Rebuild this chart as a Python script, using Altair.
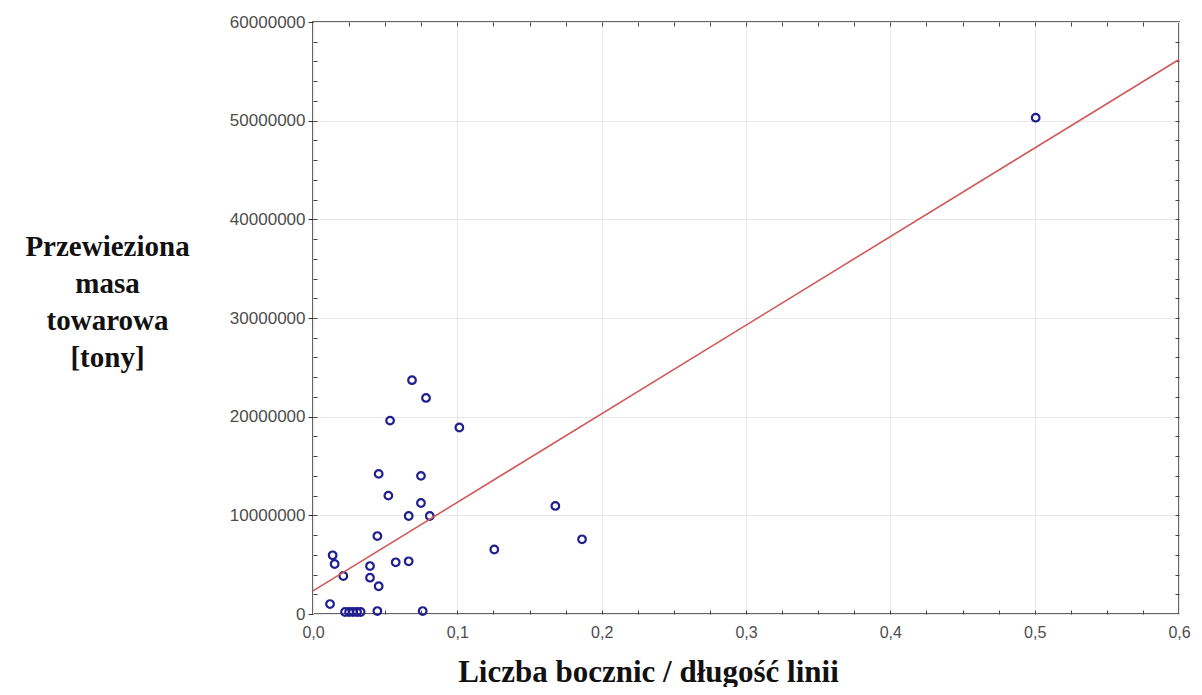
import altair as alt
import pandas as pd

# ratio: number of sidings / line length
x_ratio = [0.5007, 0.0686, 0.0783, 0.0534, 0.1014, 0.0455, 0.0748, 0.0522,
           0.0748, 0.1679, 0.0663, 0.0809, 0.0446, 0.1864, 0.1256, 0.0136,
           0.0150, 0.0395, 0.0573, 0.0663, 0.0210, 0.0395, 0.0455, 0.0118,
           0.0222, 0.0250, 0.0277, 0.0305, 0.0330, 0.0446, 0.0760]
# transported freight mass [tonnes]
y_mass = [50300000, 23700000, 21900000, 19600000, 18900000, 14200000, 14000000, 12000000,
          11250000, 10950000, 9930000, 9930000, 7900000, 7570000, 6540000, 5950000,
          5070000, 4860000, 5240000, 5340000, 3850000, 3680000, 2810000, 1010000,
          200000, 200000, 200000, 200000, 200000, 300000, 300000]

x_major = [0.0, 0.1, 0.2, 0.3, 0.4, 0.5, 0.6]
y_major = [0, 10000000, 20000000, 30000000, 40000000, 50000000, 60000000]
x_minor = [0.025, 0.05, 0.075, 0.1, 0.125, 0.15, 0.175, 0.2, 0.225, 0.25, 0.275, 0.3,
           0.325, 0.35, 0.375, 0.4, 0.425, 0.45, 0.475, 0.5, 0.525, 0.55, 0.575]
y_minor = [2000000, 4000000, 6000000, 8000000, 10000000, 12000000, 14000000, 16000000,
           18000000, 20000000, 22000000, 24000000, 26000000, 28000000, 30000000,
           32000000, 34000000, 36000000, 38000000, 40000000, 42000000, 44000000,
           46000000, 48000000, 50000000, 52000000, 54000000, 56000000, 58000000]

x_title = "Liczba bocznic / długość linii"
y_title = ["Przewieziona", "masa", "towarowa", "[tony]"]

df = pd.DataFrame({"x": x_ratio, "y": y_mass})

xs = alt.Scale(domain=[0, 0.6], nice=False, zero=False)
ys = alt.Scale(domain=[0, 60000000], nice=False)

label_font = "Liberation Sans"
title_font = "Liberation Serif"
label_color = "#4d4d4d"

base = alt.Chart(df)

points = base.mark_point(
    shape="circle", filled=False, color="#1f1f8f", size=58, strokeWidth=2.2, opacity=1
).encode(
    x=alt.X("x:Q", scale=xs, axis=alt.Axis(
        values=x_major,
        labelExpr="replace(format(datum.value, '.1f'), '.', ',')",
        title=x_title, titleFont=title_font, titleFontSize=31, titleFontWeight="bold",
        titleColor="#111111", titleX=335, titleY=67, titleAlign="center",
        titleBaseline="alphabetic",
        labelFont=label_font, labelFontSize=16, labelColor=label_color,
        labelPadding=10, labelFlush=False, ticks=False, domain=False,
        grid=True, gridColor="#e8e8e8", gridWidth=1,
    )),
    y=alt.Y("y:Q", scale=ys, axis=alt.Axis(
        values=y_major, format="d",
        title=y_title, titleAngle=0, titleFont=title_font, titleFontSize=29,
        titleFontWeight="bold", titleColor="#111111", titleX=-206, titleY=233,
        titleAlign="center", titleBaseline="alphabetic", titleLineHeight=37,
        labelFont=label_font, labelFontSize=17, labelColor=label_color,
        labelPadding=3, labelFlush=False, ticks=True, tickSize=5,
        tickColor="#333333", domain=False,
        grid=True, gridColor="#e8e8e8", gridWidth=1,
    )),
)

fit = base.transform_regression("x", "y", extent=[0, 0.6]).mark_line(
    color="#d05a5a", strokeWidth=1.6
).encode(
    x=alt.X("x:Q", scale=xs, axis=None),
    y=alt.Y("y:Q", scale=ys, axis=None),
)

minor_a = base.mark_point(opacity=0).encode(
    x=alt.X("x:Q", scale=xs, axis=alt.Axis(
        orient="bottom", values=x_minor, offset=-4, tickSize=4, tickColor="#444444",
        labels=False, domain=False, grid=False, title=None)),
    y=alt.Y("y:Q", scale=ys, axis=alt.Axis(
        orient="right", values=y_minor, offset=-4, tickSize=4, tickColor="#444444",
        labels=False, domain=False, grid=False, title=None)),
)

minor_b = base.mark_point(opacity=0).encode(
    x=alt.X("x:Q", scale=xs, axis=alt.Axis(
        orient="top", values=x_minor, offset=-4, tickSize=4, tickColor="#444444",
        labels=False, domain=False, grid=False, title=None)),
    y=alt.Y("y:Q", scale=ys, axis=alt.Axis(
        orient="left", values=y_minor, offset=-4, tickSize=4, tickColor="#444444",
        labels=False, domain=False, grid=False, title=None)),
)

chart = alt.layer(points, minor_a, minor_b, fit).resolve_axis(
    x="independent", y="independent"
).properties(
    width=866, height=592,
    autosize=alt.AutoSizeParams(type="none"),
    padding={"left": 305, "top": 14, "right": 15, "bottom": 73},
    background="#ffffff",
).configure_view(stroke="#333333", strokeWidth=1.5)

chart.save("out.html", embed_options={"renderer": "svg", "actions": False})
